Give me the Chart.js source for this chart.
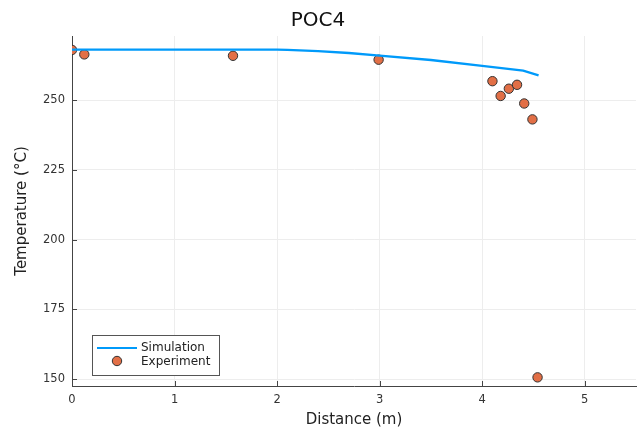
<!DOCTYPE html>
<html>
<head>
<meta charset="utf-8">
<script src="https://cdn.jsdelivr.net/npm/chart.js@4"></script>
<style>
  body { margin: 0; background: #fff; }
  #chart-container { width: 644px; height: 432px; }
</style>
</head>
<body>
<div id="chart-container"><canvas id="myChart" width="644" height="432"></canvas></div>
<script>
// simulation curve
const simX = [0, 0.5, 1, 1.5, 2, 2.1, 2.4, 2.7, 3, 3.5, 4, 4.4, 4.55];
const simY = [268.1, 268.1, 268.1, 268.1, 268.1, 268.0, 267.6, 266.9, 266.0, 264.4, 262.3, 260.6, 258.9];

// measured points
const expX = [0, 0.12, 1.57, 2.99, 4.10, 4.18, 4.26, 4.34, 4.41, 4.49, 4.54];
const expY = [268.0, 266.4, 265.9, 264.5, 256.8, 251.5, 254.1, 255.5, 248.8, 243.1, 150.6];

const xTicks = [0, 1, 2, 3, 4, 5];
const yTicks = [150, 175, 200, 225, 250];

const fontName = "'DejaVu Sans', sans-serif";
const axisColor = '#444';

function toPoints(xs, ys) {
    return xs.map((x, i) => ({ x: x, y: ys[i] }));
}

// small inward tick marks + legend box inside the plot
const extras = {
    id: 'extras',
    afterDraw(chart) {
        const ctx = chart.ctx;
        const area = chart.chartArea;
        const xs = chart.scales.x;
        const ys = chart.scales.y;
        ctx.save();
        ctx.strokeStyle = axisColor;
        ctx.lineWidth = 1;
        ctx.beginPath();
        xTicks.forEach(t => {
            const px = Math.round(xs.getPixelForValue(t)) + 0.5;
            ctx.moveTo(px, area.bottom);
            ctx.lineTo(px, area.bottom - 5);
        });
        yTicks.forEach(t => {
            const py = Math.round(ys.getPixelForValue(t)) + 0.5;
            ctx.moveTo(area.left, py);
            ctx.lineTo(area.left + 5, py);
        });
        ctx.stroke();

        // legend
        const ds = chart.data.datasets;
        ctx.fillStyle = '#fff';
        ctx.fillRect(92.5, 335.5, 127, 40);
        ctx.strokeStyle = '#555';
        ctx.strokeRect(92.5, 335.5, 127, 40);

        ctx.strokeStyle = ds[0].borderColor;
        ctx.lineWidth = 2;
        ctx.beginPath();
        ctx.moveTo(97, 348);
        ctx.lineTo(137, 348);
        ctx.stroke();

        ctx.fillStyle = ds[1].backgroundColor;
        ctx.strokeStyle = ds[1].borderColor;
        ctx.lineWidth = 1;
        ctx.beginPath();
        ctx.arc(117, 361, 4.7, 0, Math.PI * 2);
        ctx.fill();
        ctx.stroke();

        ctx.fillStyle = '#222';
        ctx.font = '12px ' + fontName;
        ctx.textBaseline = 'middle';
        ctx.textAlign = 'left';
        ctx.fillText(ds[0].label, 141, 348);
        ctx.fillText(ds[1].label, 141, 362);
        ctx.restore();
    }
};

const data = {
    datasets: [{
        type: 'line',
        label: 'Simulation',
        data: toPoints(simX, simY),
        borderColor: '#009AFA',
        borderWidth: 2.3,
        pointRadius: 0,
        fill: false,
        tension: 0
    }, {
        type: 'scatter',
        label: 'Experiment',
        data: toPoints(expX, expY),
        backgroundColor: '#E26F46',
        borderColor: '#333',
        borderWidth: 1,
        pointRadius: 4.7
    }]
};

const config = {
    data: data,
    options: {
        responsive: false,
        animation: false,
        layout: {
            padding: { left: 0, right: 8, top: 0, bottom: 0 }
        },
        scales: {
            x: {
                type: 'linear',
                min: 0,
                max: 5.5,
                afterFit: s => { s.height = 46; },
                afterBuildTicks: s => { s.ticks = xTicks.map(v => ({ value: v })); },
                ticks: {
                    includeBounds: false,
                    color: '#333',
                    padding: 7,
                    font: { family: fontName, size: 11.5 }
                },
                grid: { color: '#ededed', drawTicks: false },
                border: { display: true, color: axisColor },
                title: {
                    display: true,
                    text: 'Distance (m)',
                    color: '#222',
                    padding: { top: 0, bottom: 3 },
                    font: { family: fontName, size: 15 }
                }
            },
            y: {
                type: 'linear',
                min: 147.5,
                max: 273,
                afterFit: s => { s.width = 72; },
                afterBuildTicks: s => { s.ticks = yTicks.map(v => ({ value: v })); },
                ticks: {
                    includeBounds: false,
                    color: '#333',
                    padding: 7,
                    font: { family: fontName, size: 11.5 }
                },
                grid: { color: '#ededed', drawTicks: false },
                border: { display: true, color: axisColor },
                title: {
                    display: true,
                    text: 'Temperature (°C)',
                    color: '#222',
                    padding: { top: 13, bottom: 0 },
                    font: { family: fontName, size: 15 }
                }
            }
        },
        plugins: {
            legend: { display: false },
            tooltip: { enabled: false },
            title: {
                display: true,
                text: 'POC4',
                color: '#111',
                padding: { top: 8.5, bottom: 3.5 },
                font: { family: fontName, size: 20, weight: 'normal' }
            }
        }
    },
    plugins: [extras]
};

const myChart = new Chart(document.getElementById('myChart'), config);
</script>
</body>
</html>
